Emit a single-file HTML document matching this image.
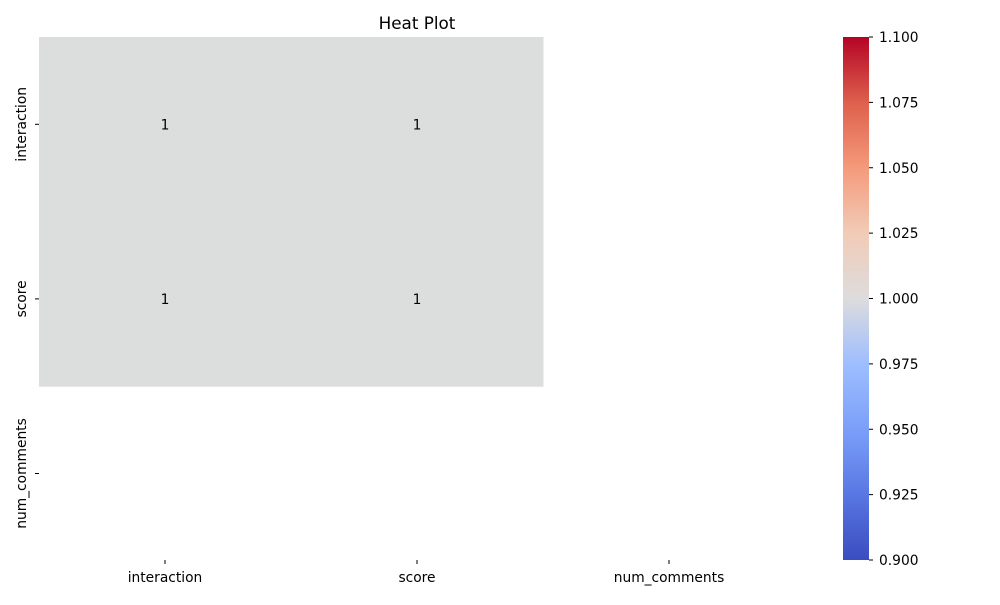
<!DOCTYPE html>
<html><head><meta charset="utf-8"><style>
body{margin:0;background:#fff;font-family:"Liberation Sans","DejaVu Sans",sans-serif;}
</style></head><body>
<svg width="1000" height="600" xmlns="http://www.w3.org/2000/svg" id="chart" font-family="DejaVu Sans, Liberation Sans, sans-serif">
<defs>
<linearGradient id="cw" x1="0" y1="1" x2="0" y2="0">
<stop offset="0" stop-color="#3b4cc0"/>
<stop offset="0.125" stop-color="#5977e3"/>
<stop offset="0.25" stop-color="#7b9ff9"/>
<stop offset="0.375" stop-color="#9ebeff"/>
<stop offset="0.5" stop-color="#dddcdc"/>
<stop offset="0.625" stop-color="#f2cbb7"/>
<stop offset="0.75" stop-color="#f49a7b"/>
<stop offset="0.875" stop-color="#de604d"/>
<stop offset="1" stop-color="#b40426"/>
</linearGradient>
</defs>
<text x="417" y="29" text-anchor="middle" font-size="16.8">Heat Plot</text>
<g id="cells"></g>
<g id="xt"></g><g id="yt"></g>
<rect x="843" y="37" width="26" height="523" fill="url(#cw)"/>
<g id="cb"></g>
</svg>
<script>
const rowLabels=["interaction","score","num_comments"];
const colLabels=["interaction","score","num_comments"];
const values=[[1,1,null],[1,1,null],[null,null,null]];
const cbTicks=[0.900,0.925,0.950,0.975,1.000,1.025,1.050,1.075,1.100];
const vmin=0.9,vmax=1.1;
const L=39,T=37,CW=252,RH=174.6,CBT=37,CBB=560;
const FS=13.8;
const ns="http://www.w3.org/2000/svg";
const svg=document.getElementById('chart');
function mk(t,a,p){const e=document.createElementNS(ns,t);for(const k in a)e.setAttribute(k,a[k]);(p||svg).appendChild(e);return e;}
const xS=i=>L+i*CW, yS=i=>T+i*RH, cbY=v=>CBB-(v-vmin)/(vmax-vmin)*(CBB-CBT);
const cells=document.getElementById('cells');
values.forEach((row,r)=>row.forEach((v,c)=>{
  if(v===null)return;
  const rc=mk('rect',{x:xS(c),y:yS(r),width:CW+0.5,height:RH+0.5,fill:'#dcdddd'},cells);
  
  
  const tx=mk('text',{x:xS(c)+CW/2,y:yS(r)+RH/2+5,'text-anchor':'middle','font-size':FS},cells);
  tx.textContent=v;
  
  
}));
const xt=document.getElementById('xt');
colLabels.forEach((l,i)=>{
  const cx=xS(i)+CW/2;
  mk('line',{x1:cx,x2:cx,y1:560,y2:564,stroke:'#000'},xt);
  const t=mk('text',{x:cx,y:582,'text-anchor':'middle','font-size':FS},xt);
  t.textContent=l;
  
  
});
const yt=document.getElementById('yt');
rowLabels.forEach((l,i)=>{
  const cy=yS(i)+RH/2;
  mk('line',{x1:35,x2:39,y1:cy,y2:cy,stroke:'#000'},yt);
  const t=mk('text',{x:0,y:0,'text-anchor':'middle','font-size':FS,transform:`translate(26,${cy}) rotate(-90)`},yt);
  t.textContent=l;
  
  
});
const cb=document.getElementById('cb');
cbTicks.forEach(v=>{
  const y=cbY(v);
  mk('line',{x1:869,x2:873,y1:y,y2:y,stroke:'#000'},cb);
  const t=mk('text',{x:879,y:y+5,'font-size':FS},cb);
  t.textContent=v.toFixed(3);
  
  
});
</script>
</body></html>
